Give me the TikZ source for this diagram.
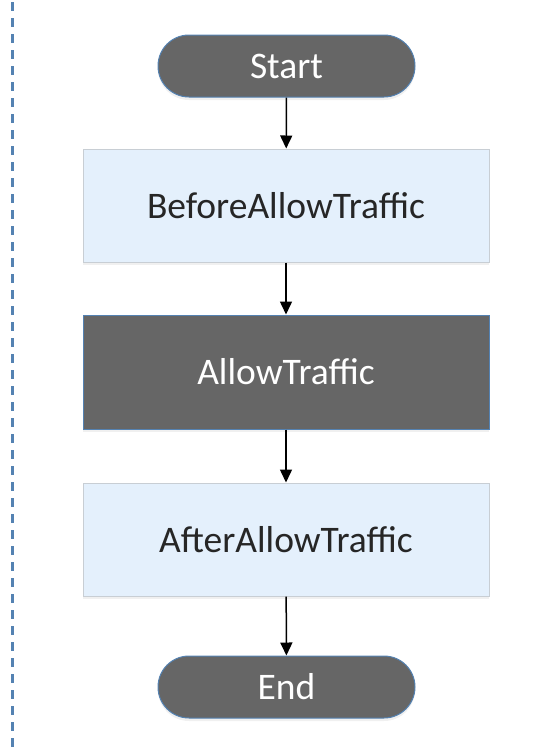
\documentclass[tikz,border=0pt]{standalone}
\usepackage{fontspec}
\setmainfont{Carlito}
\usetikzlibrary{arrows.meta,shapes.misc,shadows}
\definecolor{lightfill}{RGB}{228,240,252}
\definecolor{lightborder}{RGB}{200,206,212}
\definecolor{darkfill}{RGB}{102,102,102}
\definecolor{darkborder}{RGB}{84,130,178}
\definecolor{dashblue}{RGB}{84,130,178}
\tikzset{
  x=1pt, y=-1pt,
  boxfont/.style={font=\fontsize{37.5}{42}\selectfont},
  terminal/.style={rounded rectangle, fill=darkfill, draw=darkborder, line width=1pt,
    minimum width=257pt, minimum height=62pt, text=white, boxfont, inner sep=0pt,
    drop shadow={opacity=0.12, shadow xshift=0pt, shadow yshift=-3pt}},
  lightbox/.style={rectangle, fill=lightfill, draw=lightborder, line width=1pt,
    minimum width=406pt, minimum height=113pt, text=black!85, boxfont,
    drop shadow={opacity=0.12, shadow xshift=0pt, shadow yshift=-3pt}},
  darkbox/.style={rectangle, fill=darkfill, draw=darkborder, line width=1pt,
    minimum width=406pt, minimum height=114pt, text=white, boxfont,
    drop shadow={opacity=0.12, shadow xshift=0pt, shadow yshift=-3pt}},
  flow/.style={-{Triangle[width=12pt,length=13pt]}, line width=1.5pt, black},
  divider/.style={dashblue, line width=3pt, dash pattern=on 9pt off 7pt}
}
\begin{document}
\begin{tikzpicture}
\useasboundingbox (0,0) rectangle (558,750);
\coordinate (dtop) at (12,2);
\coordinate (dbot) at (12,750);
\draw[divider] (dtop) -- (dbot);
\node[terminal] (start) at (286.5,66) {Start};
\node[lightbox] (before) at (286,205.5) {BeforeAllowTraffic};
\node[darkbox] (allow) at (286,372) {AllowTraffic};
\node[lightbox] (after) at (286,539.5) {AfterAllowTraffic};
\node[terminal] (end) at (286.5,687) {End};
\draw[flow] (start) -- (before);
\draw[flow] (before) -- (allow);
\draw[flow] (allow) -- (after);
\draw[flow] (after) -- (end);
\end{tikzpicture}
\end{document}
